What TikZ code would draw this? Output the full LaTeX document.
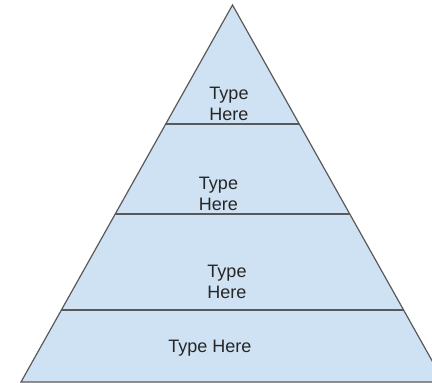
\documentclass[tikz,border=0pt]{standalone}
\usepackage{fontspec}
\setmainfont{Liberation Sans}
\usepackage{tikz}
\usetikzlibrary{calc}

\definecolor{tierfill}{HTML}{CFE2F3}
\definecolor{tierline}{HTML}{595959}

\begin{document}
\begin{tikzpicture}
    [x=1pt, y=-1pt,
    tiernode/.style={align=center, font=\fontsize{18}{21}\selectfont, text=black!85},
    divider/.style={draw=tierline, line width=1.2pt},]

    \useasboundingbox (0,0) rectangle (432,383);
    \clip (0,0) rectangle (432,383);

    %Corners
    \coordinate (top) at (232.5,5);
    \coordinate (bl) at (21,382);
    \coordinate (br) at (444,382);

    %Pyramid
    \draw[fill=tierfill, draw=tierline, line width=1.2pt, line join=miter] (top)--(bl)--(br)--cycle;

    %Dividers
    \draw[divider] ($(top)!0.3156!(bl)$)--($(top)!0.3156!(br)$);
    \draw[divider] ($(top)!0.5544!(bl)$)--($(top)!0.5544!(br)$);
    \draw[divider] ($(top)!0.8090!(bl)$)--($(top)!0.8090!(br)$);

    %Labels
    \node[tiernode](tierA) at (229,104){Type\\Here};
    \node[tiernode](tierB) at (218.5,194){Type\\Here};
    \node[tiernode](tierC) at (227,282){Type\\Here};
    \node[tiernode](tierD) at (210,348){Type Here};
\end{tikzpicture}
\end{document}
